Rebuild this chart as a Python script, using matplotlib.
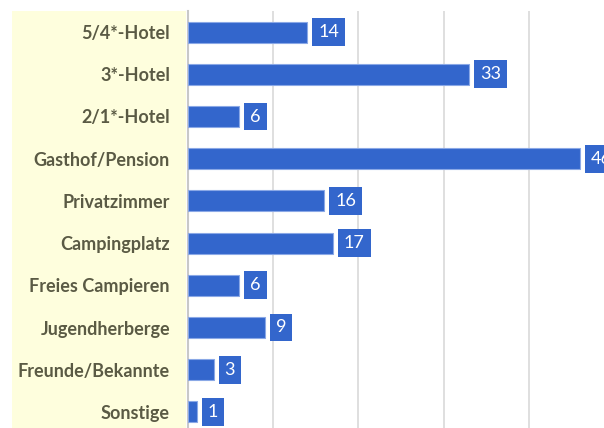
import matplotlib
matplotlib.use('Agg')
import matplotlib.pyplot as plt
from matplotlib.patches import Rectangle

# data
categories = ['5/4*-Hotel', '3*-Hotel', '2/1*-Hotel', 'Gasthof/Pension',
              'Privatzimmer', 'Campingplatz', 'Freies Campieren',
              'Jugendherberge', 'Freunde/Bekannte', 'Sonstige']
values = [14, 33, 6, 46, 16, 17, 6, 9, 3, 1]

bar_color = '#3366cc'
text_color = '#5a5a44'

plt.rcParams['font.family'] = ['Lato', 'DejaVu Sans']

W, H = 604, 428
fig = plt.figure(figsize=(W / 100, H / 100), dpi=100)

# yellow label panel behind the category names
fig.patches.append(Rectangle((12 / W, 0), (186 - 12) / W, (H - 11) / H,
                             transform=fig.transFigure, facecolor='#fefedd',
                             edgecolor='none', zorder=-5))

ax = fig.add_axes([188 / W, -5 / H, (W - 188) / W, (H - 11 + 5) / H])
ax.set_facecolor('none')

ypos = list(range(len(categories)))
ax.barh(ypos, values, height=0.5, color=bar_color, edgecolor='#8aa8e6',
        linewidth=0.8, zorder=3)

ax.set_xlim(0, 48.8)
ax.set_ylim(len(categories) - 0.5, -0.5)
ax.set_xticks([10, 20, 30, 40])
ax.xaxis.grid(True, color='#d9d9d9', linewidth=1.2)
ax.set_xticklabels([])
ax.tick_params(length=0)

ax.set_yticks(ypos)
ax.set_yticklabels(categories, fontsize=13, fontweight='bold', color=text_color)
ax.tick_params(axis='y', pad=13)

for s in ['top', 'right', 'bottom']:
    ax.spines[s].set_visible(False)
ax.spines['left'].set_color('#c8c8c8')
ax.spines['left'].set_linewidth(1.5)

for y, v in zip(ypos, values):
    ax.annotate(str(v), (v, y), xytext=(11, 0), textcoords='offset pixels',
                ha='left', va='center', color='white', fontsize=13,
                bbox=dict(boxstyle='square,pad=0.33', facecolor=bar_color,
                          edgecolor='none'), zorder=4, annotation_clip=False)

fig.savefig('out.png', dpi=100)
